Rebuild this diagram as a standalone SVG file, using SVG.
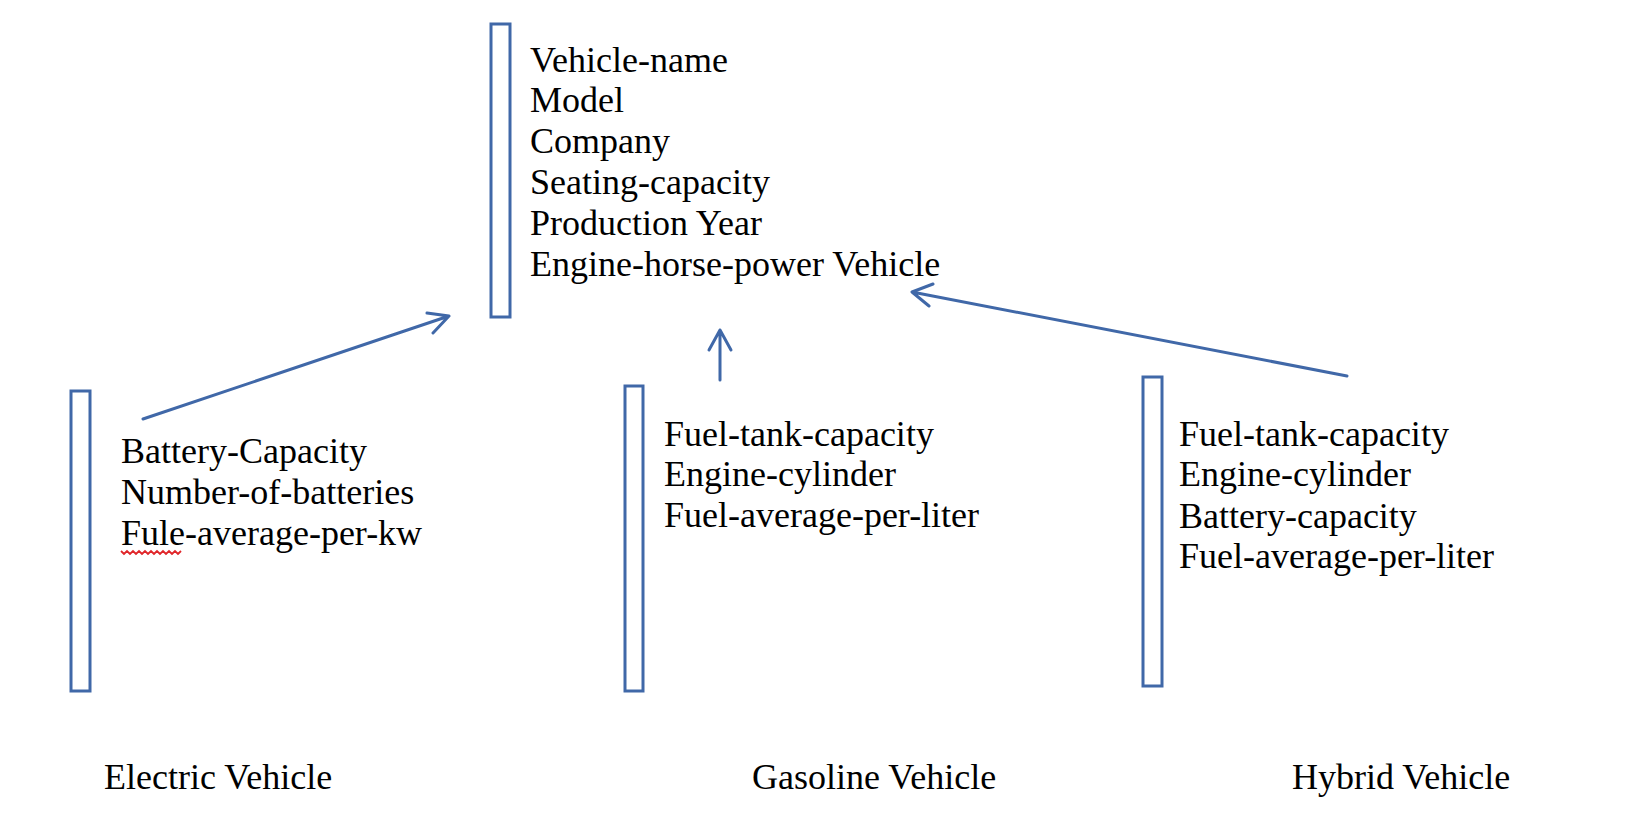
<svg xmlns="http://www.w3.org/2000/svg" width="1650" height="836" viewBox="0 0 1650 836">
<style>
.box{fill:none;stroke:#4068A8;stroke-width:3}
.conn{fill:none;stroke:#4068A8;stroke-width:3;stroke-linecap:round;stroke-linejoin:round}
.t{font-family:"Liberation Serif","Times New Roman",serif;font-size:36px;fill:#000}
.squig{fill:none;stroke:#E0262A;stroke-width:1.8}
</style>
<rect width="1650" height="836" fill="#fff"/>
<g id="vehicle">
<rect class="box" x="491" y="24" width="19" height="293"/>
<text class="t" x="530" y="72">Vehicle-name</text>
<text class="t" x="530" y="112">Model</text>
<text class="t" x="530" y="153">Company</text>
<text class="t" x="530" y="194">Seating-capacity</text>
<text class="t" x="530" y="235">Production Year</text>
<text class="t" x="530" y="276">Engine-horse-power Vehicle</text>
</g>
<g id="electric">
<rect class="box" x="71" y="391" width="19" height="300"/>
<text class="t" x="121" y="463">Battery-Capacity</text>
<text class="t" x="121" y="504">Number-of-batteries</text>
<text class="t" x="121" y="545">Fule-average-per-kw</text>
<path class="squig" d="M121 551 l3 3 l3 -3 l3 3 l3 -3 l3 3 l3 -3 l3 3 l3 -3 l3 3 l3 -3 l3 3 l3 -3 l3 3 l3 -3 l3 3 l3 -3 l3 3 l3 -3 l3 3 l3 -3"/>
<text class="t" x="104" y="789">Electric Vehicle</text>
</g>
<g id="gasoline">
<rect class="box" x="625" y="386" width="18" height="305"/>
<text class="t" x="664" y="446">Fuel-tank-capacity</text>
<text class="t" x="664" y="486">Engine-cylinder</text>
<text class="t" x="664" y="527">Fuel-average-per-liter</text>
<text class="t" x="752" y="789">Gasoline Vehicle</text>
</g>
<g id="hybrid">
<rect class="box" x="1143" y="377" width="19" height="309"/>
<text class="t" x="1179" y="446">Fuel-tank-capacity</text>
<text class="t" x="1179" y="486">Engine-cylinder</text>
<text class="t" x="1179" y="528">Battery-capacity</text>
<text class="t" x="1179" y="568">Fuel-average-per-liter</text>
<text class="t" x="1292" y="789">Hybrid Vehicle</text>
</g>
<g id="connectors">
<path class="conn" d="M143 419 L449 316 M427 313 L449 316 L433 333"/>
<path class="conn" d="M720 380 L720 330 M709 350 L720 330 L731 350"/>
<path class="conn" d="M1347 376 L912 292 M933 284 L912 292 L929 306"/>
</g>
</svg>
